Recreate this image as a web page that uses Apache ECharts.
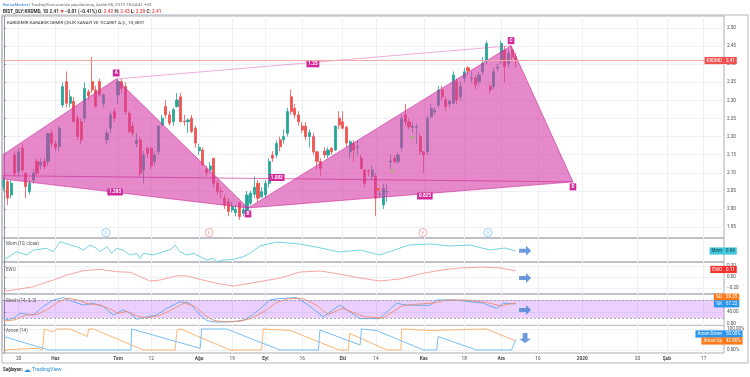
<!DOCTYPE html>
<html>
<head>
<meta charset="utf-8">
<script src="https://cdn.jsdelivr.net/npm/echarts@6/dist/echarts.min.js"></script>
<style>
html, body { margin: 0; padding: 0; background: #fff; }
#chart { width: 750px; height: 377px; }
</style>
</head>
<body>
<div id="chart"></div>
<script>
// daily bars: [bar, open, close, low, high]
const candles = [
  [0, 2.06, 2.08, 2.05, 2.09], [1, 2.076, 2.030, 2.011, 2.08], [2, 2.039, 2.071, 2.03, 2.08],
  [3, 2.149, 2.099, 2.09, 2.16], [4, 2.103, 2.158, 2.09, 2.17], [5, 2.168, 2.108, 2.10, 2.18],
  [6, 2.099, 2.062, 2.03, 2.10], [7, 2.048, 2.071, 2.04, 2.08], [8, 2.080, 2.099, 2.07, 2.11],
  [9, 2.131, 2.099, 2.09, 2.14], [10, 2.122, 2.129, 2.11, 2.14], [11, 2.131, 2.117, 2.11, 2.14],
  [12, 2.131, 2.209, 2.12, 2.21], [13, 2.209, 2.182, 2.17, 2.22], [14, 2.180, 2.170, 2.16, 2.19],
  [15, 2.172, 2.223, 2.16, 2.23], [16, 2.287, 2.338, 2.28, 2.35], [17, 2.352, 2.292, 2.28, 2.38],
  [18, 2.292, 2.310, 2.28, 2.33], [19, 2.297, 2.241, 2.24, 2.31], [20, 2.251, 2.200, 2.19, 2.26],
  [21, 2.241, 2.191, 2.18, 2.25], [22, 2.251, 2.333, 2.24, 2.35], [23, 2.324, 2.312, 2.30, 2.33],
  [24, 2.352, 2.329, 2.32, 2.42], [25, 2.329, 2.283, 2.28, 2.34], [26, 2.352, 2.315, 2.31, 2.36],
  [27, 2.292, 2.315, 2.28, 2.32], [28, 2.191, 2.209, 2.18, 2.22], [29, 2.223, 2.260, 2.21, 2.27],
  [30, 2.269, 2.251, 2.24, 2.28], [31, 2.315, 2.352, 2.29, 2.36], [32, 2.352, 2.333, 2.32, 2.36],
  [33, 2.338, 2.269, 2.26, 2.35], [34, 2.264, 2.214, 2.21, 2.27], [35, 2.229, 2.209, 2.20, 2.24],
  [36, 2.181, 2.190, 2.17, 2.21], [37, 2.191, 2.099, 2.09, 2.20], [38, 2.108, 2.149, 2.07, 2.16],
  [39, 2.168, 2.154, 2.14, 2.17], [40, 2.168, 2.119, 2.11, 2.17], [41, 2.131, 2.149, 2.12, 2.16],
  [42, 2.158, 2.229, 2.15, 2.23], [43, 2.232, 2.251, 2.23, 2.26], [44, 2.283, 2.260, 2.25, 2.30],
  [45, 2.260, 2.237, 2.23, 2.27], [46, 2.241, 2.274, 2.23, 2.28], [47, 2.283, 2.301, 2.28, 2.32],
  [48, 2.310, 2.241, 2.24, 2.32], [49, 2.243, 2.241, 2.23, 2.26], [50, 2.241, 2.246, 2.21, 2.25],
  [51, 2.251, 2.214, 2.21, 2.26], [52, 2.223, 2.182, 2.17, 2.23], [53, 2.161, 2.170, 2.15, 2.18],
  [54, 2.163, 2.122, 2.12, 2.17], [55, 2.110, 2.101, 2.09, 2.12], [56, 2.108, 2.119, 2.10, 2.13],
  [57, 2.140, 2.071, 2.06, 2.14], [58, 2.071, 2.048, 2.04, 2.08], [59, 2.049, 2.048, 2.03, 2.06],
  [60, 2.030, 2.011, 2.00, 2.04], [61, 2.020, 1.993, 1.98, 2.03], [62, 1.997, 2.007, 1.99, 2.02],
  [63, 1.990, 1.999, 1.98, 2.01], [64, 2.016, 1.979, 1.97, 2.02], [65, 1.988, 1.998, 1.98, 2.01],
  [66, 1.993, 2.039, 1.99, 2.05], [67, 2.016, 2.044, 2.01, 2.05], [68, 2.041, 2.060, 2.03, 2.09],
  [69, 2.071, 2.030, 2.02, 2.08], [70, 2.034, 2.048, 2.03, 2.06], [71, 2.039, 2.071, 2.03, 2.08],
  [72, 2.071, 2.131, 2.06, 2.14], [73, 2.149, 2.140, 2.13, 2.16], [74, 2.149, 2.181, 2.14, 2.19],
  [75, 2.191, 2.172, 2.16, 2.20], [76, 2.191, 2.200, 2.18, 2.22], [77, 2.209, 2.269, 2.20, 2.28],
  [78, 2.310, 2.269, 2.26, 2.33], [79, 2.278, 2.260, 2.25, 2.29], [80, 2.260, 2.241, 2.23, 2.27],
  [81, 2.229, 2.218, 2.21, 2.24], [82, 2.229, 2.200, 2.19, 2.24], [83, 2.200, 2.211, 2.17, 2.22],
  [84, 2.200, 2.158, 2.15, 2.21], [85, 2.158, 2.131, 2.11, 2.16], [86, 2.131, 2.112, 2.09, 2.14],
  [87, 2.160, 2.149, 2.14, 2.17], [88, 2.149, 2.163, 2.14, 2.17], [89, 2.168, 2.158, 2.15, 2.17],
  [90, 2.163, 2.229, 2.16, 2.23], [91, 2.251, 2.232, 2.22, 2.27], [92, 2.241, 2.223, 2.22, 2.27],
  [93, 2.226, 2.182, 2.17, 2.23], [94, 2.158, 2.186, 2.14, 2.19], [95, 2.181, 2.163, 2.13, 2.19],
  [96, 2.170, 2.172, 2.15, 2.19], [97, 2.140, 2.112, 2.11, 2.15], [98, 2.108, 2.071, 2.06, 2.11],
  [99, 2.104, 2.103, 2.09, 2.11], [100, 2.090, 2.108, 2.08, 2.12], [101, 2.090, 2.030, 1.98, 2.10],
  [102, 2.040, 2.041, 2.03, 2.05], [103, 2.011, 2.057, 2.00, 2.07], [104, 2.047, 2.049, 2.02, 2.07],
  [105, 2.130, 2.132, 2.11, 2.15], [106, 2.140, 2.131, 2.126, 2.149], [107, 2.131, 2.149, 2.125, 2.155],
  [108, 2.170, 2.250, 2.16, 2.26], [109, 2.260, 2.241, 2.23, 2.29], [110, 2.241, 2.227, 2.22, 2.25],
  [111, 2.225, 2.228, 2.21, 2.24], [112, 2.226, 2.228, 2.18, 2.235], [113, 2.200, 2.158, 2.15, 2.21],
  [114, 2.158, 2.149, 2.10, 2.16], [115, 2.158, 2.250, 2.15, 2.26], [116, 2.255, 2.278, 2.25, 2.29],
  [117, 2.268, 2.272, 2.26, 2.28], [118, 2.287, 2.329, 2.28, 2.34], [119, 2.329, 2.310, 2.30, 2.34],
  [120, 2.301, 2.283, 2.27, 2.31], [121, 2.290, 2.298, 2.28, 2.30], [122, 2.292, 2.370, 2.29, 2.38],
  [123, 2.352, 2.301, 2.29, 2.36], [124, 2.310, 2.338, 2.30, 2.35], [125, 2.361, 2.379, 2.35, 2.39],
  [126, 2.390, 2.381, 2.37, 2.395], [127, 2.360, 2.362, 2.35, 2.38], [128, 2.361, 2.343, 2.33, 2.37],
  [129, 2.352, 2.370, 2.34, 2.38], [130, 2.379, 2.402, 2.37, 2.42], [131, 2.411, 2.457, 2.40, 2.465],
  [132, 2.338, 2.329, 2.32, 2.345], [133, 2.338, 2.379, 2.33, 2.39], [134, 2.389, 2.392, 2.38, 2.40],
  [135, 2.411, 2.457, 2.40, 2.465], [136, 2.439, 2.393, 2.35, 2.45], [137, 2.402, 2.430, 2.39, 2.44],
  [138, 2.439, 2.420, 2.41, 2.45], [139, 2.42, 2.41, 2.39, 2.43]
];

// XABCD pattern points: [name, bar, price]
const patternPts = [
  ['X', -8.6, 2.093], ['A', 30.5, 2.359], ['B', 66.3, 2.003], ['C', 137.7, 2.451], ['D', 154.5, 2.075]
];
// ratio labels on the pattern legs: [bar, price, text]
const ratioLabels = [[30.2, 2.047, '1.385'], [83.9, 2.401, '1.25'], [74.1, 2.087, '1.082'], [114.3, 2.036, '0.825']];

// event markers under the price (D = dividend, E = earnings): [bar, price, letter]
const events = [[27.7, 1.935, 'D'], [55.7, 1.935, 'E'], [113.8, 1.935, 'E'], [131.4, 1.935, 'D']];
const upSignals = [[105.6, 2.108], [110.8, 2.199]];
const downSignals = [[101.6, 2.053]];

// indicator lines: [bar, value]
const momLine = [[0,-0.16],[3.5,0.025],[6.2,-0.049],[8,0.062],[11.6,0.099],[13.4,0.025],[15.3,0.247],[18,0.173],[19.8,0.136],[21.6,0.062],[23.4,0.173],[25.2,0.099],[26.1,0.025],[28,0.136],[29.3,-0.012],[30.6,0.099],[32.4,0.062],[34.3,-0.049],[36.1,-0.012],[37,-0.123],[37.9,-0.012],[40.6,-0.049],[43.3,0.025],[45.1,0.062],[46.5,0.173],[47.8,0.025],[49.6,-0.049],[51.5,-0.012],[53.3,-0.086],[55.1,-0.16],[56.9,-0.123],[57.8,-0.197],[59.6,-0.16],[62.3,-0.145],[65,-0.086],[66.8,-0.012],[69.5,0.151],[74,0.24],[80.4,0.195],[86,0.107],[91,0.018],[96.7,0.062],[102,-0.049],[106,0.062],[110,0.173],[116,0.195],[121,0.151],[126.5,0.173],[132,0.062],[136,0.107],[139,0.04]];
const ewoLine = [[0,-0.255],[2.6,-0.236],[8,-0.176],[13.4,-0.055],[17.1,0.036],[21.6,0.115],[26.1,0.139],[30.6,0.097],[34.3,0.085],[37,0.006],[39.7,-0.073],[42.4,-0.055],[47,0.024],[49.6,0.018],[53.3,-0.042],[57.8,-0.115],[62.3,-0.164],[66.8,-0.115],[75,-0.02],[80.4,0.09],[86,0.11],[91,0.055],[96.7,-0.018],[102,-0.073],[107.5,-0.036],[113,0.055],[118.7,0.127],[124,0.164],[129.7,0.18],[135,0.164],[139,0.11]];
const stochK = [[0,13],[2.6,19],[4.4,36],[8,30],[10.7,58],[13.4,80],[16.2,88],[18.9,74],[21.6,63],[24.3,69],[27,58],[29.7,30],[32.4,47],[34.3,36],[36.1,16],[38.8,24],[41.5,30],[44.2,52],[47.8,74],[50.5,69],[53.3,30],[55.1,11],[57.8,6],[62.3,8],[65,13],[66.8,24],[70,55],[72.2,80],[75,85],[79.5,88],[83,60],[86.7,24],[91.2,63],[96.7,18],[102,18],[106.6,69],[109.3,63],[115.7,62],[117.5,80],[122.9,80],[130.2,69],[133.8,52],[135.6,69],[139,67.22]];
const stochD = [[0,10],[3,14],[6,30],[9,32],[12,50],[15,75],[17.5,86],[20,80],[23,67],[26,64],[28.5,52],[31,36],[33.5,42],[36,28],[38.5,20],[42,27],[45,44],[49,70],[52,58],[54.5,30],[57,12],[60,7],[64,9],[67,18],[71,44],[74,72],[77,84],[81,86],[85,62],[88,32],[92,52],[98,24],[103,20],[108,60],[111,65],[117,70],[120,80],[125,80],[131,72],[135,60],[137,66],[139,69.35]];
const aroonUp = [[0,0],[7,7],[9.4,7],[10.5,0],[11,100],[13.4,86],[14.5,100],[18,100],[22.7,64],[23,100],[24.3,100],[37.9,0],[46.5,0],[47,93],[48,100],[61.4,0],[70,0],[70.4,100],[77.7,93],[91,0],[93.5,0],[93.9,79],[104,0],[107.8,0],[108,100],[115.7,93],[116,100],[131,100],[139,42.86]];
const aroonDown = [[0,64],[10.7,8],[12,0],[28.8,0],[34.5,0],[34.7,100],[53.3,8],[53.7,100],[60.5,100],[66.8,56],[75,0],[85.4,0],[85.8,95],[96.7,24],[97.1,100],[101.2,93],[113.9,0],[117.5,0],[117.9,64],[128.3,0],[137.8,0],[139,50]];

// time axis labels
const tickIdx = [4, 14, 31, 40, 53, 62, 71, 81, 92, 101, 114, 125, 135, 145, 157, 172, 180, 190];
const tickText = ['20', 'Haz', 'Tem', '12', 'Ağu', '19', 'Eyl', '16', 'Eki', '14', 'Kas', '18', 'Ara', '16', '2020', '20', 'Şub', '17'];
const boldTicks = ['Haz', 'Tem', 'Ağu', 'Eyl', 'Eki', 'Kas', 'Ara', '2020', 'Şub'];
const priceTicks = [1.95, 2.00, 2.05, 2.10, 2.15, 2.20, 2.25, 2.30, 2.35, 2.40, 2.45, 2.50];

const FONT = 'Roboto, "DejaVu Sans", sans-serif';
const GRIDLINE = '#eef0f4';
const AXIS = '#8f939b';
const TXT = '#4a4a4a';
const chart = echarts.init(document.getElementById('chart'));

const panes = [
  { top: 16, h: 222, min: 1.92, max: 2.533 },
  { top: 238, h: 24, min: -0.204, max: 0.329 },
  { top: 262, h: 32, min: -0.309, max: 0.273 },
  { top: 294, h: 31, min: -3.3, max: 100 },
  { top: 325, h: 28, min: -14.3, max: 119 }
];
const yTicks = [priceTicks, [], [-0.2, 0, 0.2], [0, 40, 80], [0, 100]];
const yFmt = [
  v => v.toFixed(2),
  v => v.toFixed(2),
  v => (v < 0 ? '\u2212' + (-v).toFixed(2) : v.toFixed(2)),
  v => v.toFixed(2),
  v => v.toFixed(2) + '%'
];

const line = (k, data, color, extra) => Object.assign({
  type: 'line', xAxisIndex: k, yAxisIndex: k, data: data, symbol: 'none',
  lineStyle: { color: color, width: 0.9 }, silent: true, z: 3
}, extra || {});

const arrowRight = 'path://M0,32 L58,32 L58,5 L100,50 L58,95 L58,68 L0,68 Z';
const arrowDown = 'path://M32,0 L68,0 L68,58 L95,58 L50,100 L5,58 L32,58 Z';
const arrow = (k, v, path) => ({
  type: 'scatter', xAxisIndex: k, yAxisIndex: k, data: [[141.5, v]], symbol: path,
  symbolSize: [12, 10], itemStyle: { color: '#4682d6' }, silent: true, z: 6
});

const option = {
  animation: false,
  backgroundColor: '#ffffff',
  grid: panes.map(p => ({
    left: 2, top: p.top, width: 722, height: p.h, show: true,
    borderColor: '#a9acb4', borderWidth: 1, backgroundColor: 'transparent'
  })),
  xAxis: panes.map((p, k) => ({
    type: 'value', gridIndex: k, min: -0.5, max: 195.5,
    axisLine: { show: false },
    axisTick: { show: false, customValues: tickIdx },
    splitLine: { show: true, lineStyle: { color: GRIDLINE, width: 1 } },
    axisLabel: {
      show: k === 4, customValues: tickIdx, margin: 3, fontSize: 4.8, color: TXT, fontFamily: FONT,
      formatter: v => {
        const t = tickText[tickIdx.indexOf(v)] || '';
        return boldTicks.includes(t) ? '{b|' + t + '}' : t;
      },
      rich: { b: { fontWeight: 'bold', fontSize: 4.8, fontFamily: FONT, color: TXT } }
    }
  })),
  yAxis: panes.map((p, k) => ({
    type: 'value', gridIndex: k, position: 'right', min: p.min, max: p.max,
    axisLine: { show: true, lineStyle: { color: AXIS } },
    axisTick: { show: true, length: 2, customValues: yTicks[k], lineStyle: { color: AXIS } },
    splitLine: { show: k !== 1, lineStyle: { color: GRIDLINE } },
    axisLabel: {
      show: k !== 1, customValues: yTicks[k], formatter: yFmt[k],
      margin: 3, fontSize: 4.6, color: TXT, fontFamily: FONT
    }
  })),
  series: [
    {
      type: 'candlestick', xAxisIndex: 0, yAxisIndex: 0, data: candles, barWidth: 2.6, z: 2,
      itemStyle: { color: '#26a69a', color0: '#ef5350', borderColor: '#26a69a', borderColor0: '#ef5350', borderWidth: 0.8 },
      markLine: {
        silent: true, symbol: 'none', label: { show: false },
        lineStyle: { color: '#f5a9a8', type: 'solid', width: 1 },
        data: [{ yAxis: candles[candles.length - 1][2] }]
      }
    },
    {
      type: 'custom', xAxisIndex: 0, yAxisIndex: 0, clip: true, z: 4, silent: true,
      data: patternPts.map(p => [p[1], p[2]]),
      encode: { x: 0, y: 1 },
      renderItem: (params, api) => {
        if (params.dataIndex !== 0) return null;
        const P = patternPts.map(p => api.coord([p[1], p[2]]));
        const fill = 'rgba(212,58,166,0.6)';
        const edge = 'rgba(205,45,155,0.8)';
        const tag = (pt, text, dy) => ({
          type: 'text', x: pt[0], y: pt[1] + dy,
          style: {
            text: text, fill: '#fff', backgroundColor: '#d2279a', padding: [1.2, 1.8, 0.8, 1.8],
            fontSize: 4.6, fontFamily: FONT, fontWeight: 'bold', align: 'center', verticalAlign: 'middle'
          }
        });
        const kids = [
          { type: 'polygon', shape: { points: [P[0], P[1], P[2]] }, style: { fill: fill, stroke: edge, lineWidth: 0.8 } },
          { type: 'polygon', shape: { points: [P[2], P[3], P[4]] }, style: { fill: fill, stroke: edge, lineWidth: 0.8 } },
          { type: 'polyline', shape: { points: [P[1], P[3]] }, style: { stroke: 'rgba(214,70,170,0.55)', lineWidth: 0.8, fill: null } },
          { type: 'polyline', shape: { points: [P[0], P[4]] }, style: { stroke: 'rgba(205,45,155,0.75)', lineWidth: 0.9, fill: null } },
          tag(P[1], 'A', -6), tag(P[2], 'B', 6), tag(P[3], 'C', -5), tag(P[4], 'D', 5)
        ];
        ratioLabels.forEach(r => kids.push(tag(api.coord([r[0], r[1]]), r[2], 0)));
        return { type: 'group', children: kids };
      }
    },
    {
      type: 'scatter', xAxisIndex: 0, yAxisIndex: 0, z: 5, silent: true, symbol: 'circle', symbolSize: 8,
      data: events.map(e => {
        const c = e[2] === 'D' ? '#64b5f6' : '#ef7d7b';
        return {
          value: [e[0], e[1]],
          itemStyle: { color: '#fff', borderColor: c, borderWidth: 0.8 },
          label: { show: true, formatter: e[2], position: 'inside', color: c, fontSize: 4.4, fontFamily: FONT }
        };
      })
    },
    {
      type: 'scatter', xAxisIndex: 0, yAxisIndex: 0, z: 5, silent: true, symbol: 'triangle', symbolSize: [4, 3.5],
      data: upSignals, itemStyle: { color: '#8bc34a' }
    },
    {
      type: 'scatter', xAxisIndex: 0, yAxisIndex: 0, z: 5, silent: true, symbol: 'triangle', symbolRotate: 180, symbolSize: [4, 3.5],
      data: downSignals, itemStyle: { color: '#f4511e' }
    },
    line(1, momLine, '#62cfe0'),
    line(2, ewoLine, '#f49a97'),
    line(3, stochK, '#5aa9f0', {
      markArea: { silent: true, itemStyle: { color: 'rgba(153,21,255,0.2)' }, data: [[{ yAxis: 20 }, { yAxis: 80 }]] },
      markLine: { silent: true, symbol: 'none', label: { show: false }, lineStyle: { color: '#9598a1', type: [2, 2], width: 0.8 }, data: [{ yAxis: 20 }, { yAxis: 80 }] }
    }),
    line(3, stochD, '#f28b6a'),
    line(4, aroonUp, '#fdad63'),
    line(4, aroonDown, '#6ab9f2'),
    arrow(1, 0.047, arrowRight),
    arrow(2, -0.018, arrowRight),
    arrow(3, 46.6, arrowRight),
    arrow(4, 57, arrowDown)
  ]
};
chart.setOption(option);

// right-side value badges, placed with the library's own scales
function badge(axis, value, name, valText, bg, fg, dy) {
  const y = chart.convertToPixel({ yAxisIndex: axis }, value) + (dy || 0);
  const st = { fontSize: 4.5, fontFamily: FONT, fill: fg, backgroundColor: bg, padding: [1.3, 2, 0.9, 2], verticalAlign: 'middle' };
  return [
    { type: 'text', x: 724, y: y, z: 100, style: Object.assign({ text: name, align: 'right' }, st) },
    { type: 'text', x: 724, y: y, z: 100, style: Object.assign({ text: valText, align: 'left' }, st) }
  ];
}
const lastClose = candles[candles.length - 1][2];
const badges = [].concat(
  badge(0, lastClose, 'KRDMD', lastClose.toFixed(2), '#ef5350', '#fff', 0),
  badge(1, 0.04, 'Mom', '0.04', '#3fc7db', '#1b3a40', 0),
  badge(2, 0.11, 'EWO', '0.11', '#f23030', '#fff', -1.5),
  badge(3, 69.35, '%D', '69.35', '#ff7a1a', '#fff', -6),
  badge(3, 67.22, '%K', '67.22', '#2b95ee', '#fff', 0),
  badge(4, 50, 'Aroon Down', '50.00%', '#2b95ee', '#fff', -5.5),
  badge(4, 42.86, 'Aroon Up', '42.86%', '#ff7a1a', '#fff', 0)
);

const header = [
  { type: 'rect', shape: { x: 2, y: 15, width: 746, height: 348 }, style: { fill: 'none', stroke: '#b4b7bf', lineWidth: 1 }, z: 90 },
  {
    type: 'text', x: 3, y: 4.5, z: 90,
    style: {
      text: "{b|BorsaMerkezi} TradingView.com'da yayınlanmış, Aralık 08, 2019 18:54:41 +03",
      fontSize: 4.4, fontFamily: FONT, fill: '#6a6d78', verticalAlign: 'middle',
      rich: { b: { fill: '#2f80d8', fontSize: 4.4, fontFamily: FONT } }
    }
  },
  {
    type: 'text', x: 3, y: 11.5, z: 90,
    style: {
      text: 'BIST_DLY:KRDMD, 1D 2.41 {r|\u25BC} \u22120.01 (\u22120.41%) O: {r|2.42} H: {r|2.43} L: {r|2.39} C: {r|2.41}',
      fontSize: 4.7, fontWeight: 'bold', fontFamily: FONT, fill: '#333', verticalAlign: 'middle',
      rich: { r: { fill: '#ef5350', fontSize: 4.7, fontWeight: 'bold', fontFamily: FONT } }
    }
  },
  {
    type: 'text', x: 7, y: 23, z: 90,
    style: { text: 'KARDEMİR KARABÜK DEMİR ÇELİK SANAYİ VE TİCARET A.Ş., 1G, BIST', fontSize: 4.4, fontFamily: FONT, fill: '#333', verticalAlign: 'middle' }
  },
  { type: 'text', x: 6, y: 244, z: 90, style: { text: 'Mom (10, close)', fontSize: 4.6, fontFamily: FONT, fill: '#555', verticalAlign: 'middle' } },
  { type: 'text', x: 6, y: 270, z: 90, style: { text: 'EWO', fontSize: 4.6, fontFamily: FONT, fill: '#555', verticalAlign: 'middle' } },
  { type: 'text', x: 6, y: 301, z: 90, style: { text: 'Stoch (14, 3, 3)', fontSize: 4.6, fontFamily: FONT, fill: '#555', verticalAlign: 'middle' } },
  { type: 'text', x: 6, y: 331, z: 90, style: { text: 'Aroon (14)', fontSize: 4.6, fontFamily: FONT, fill: '#555', verticalAlign: 'middle' } },
  {
    type: 'text', x: 3, y: 370, z: 90,
    style: {
      text: 'Sağlayan: {c|\u2601} {t|TradingView}', fontSize: 4.5, fontWeight: 'bold', fontFamily: FONT, fill: '#333', verticalAlign: 'middle',
      rich: { c: { fill: '#2f8fe0', fontSize: 7, fontFamily: '"DejaVu Sans"' }, t: { fill: '#2f8fe0', fontSize: 5.4, fontFamily: FONT } }
    }
  }
];
chart.setOption({ graphic: header.concat(badges) });
</script>
</body>
</html>
